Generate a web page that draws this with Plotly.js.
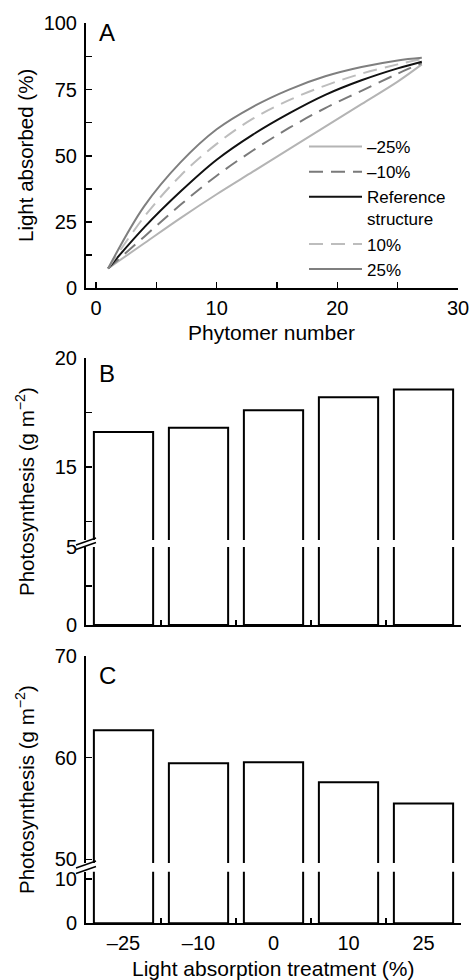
<!DOCTYPE html>
<html><head><meta charset="utf-8">
<script src="https://cdn.plot.ly/plotly-3.0.1.min.js"></script>
<style>html,body{margin:0;padding:0;background:#fff}#chart{width:470px;height:980px}</style>
</head><body><div id="chart"></div>
<script>
// ---- data ----
const phytomer = [1, 4, 7, 10, 13, 16, 19, 22, 25, 27];
const absMinus25 = [7.5, 17, 26.5, 35.5, 44, 52.5, 61, 69.5, 78, 84.5];
const absMinus10 = [7.5, 19.5, 31.5, 42.5, 52, 60.5, 68, 74.5, 81, 85];
const absReference = [7.5, 23, 36.5, 48.5, 58, 66, 73, 78.5, 83, 85.5];
const absPlus10 = [7.5, 27, 42.5, 54.5, 64, 71, 76.5, 81, 84.5, 86.5];
const absPlus25 = [7.5, 31, 47.5, 60, 68.5, 75, 80, 83.5, 86, 87];
const seriesNames = ['–25%', '–10%', 'Reference<br>structure', '10%', '25%'];
const treatments = ['–25', '–10', '0', '10', '25'];
const photoB = [16.6, 16.8, 17.6, 18.2, 18.55];
const photoC = [62.7, 59.45, 59.55, 57.6, 55.5];

// ---- layout helpers (pixel -> paper) ----
const W = 470, H = 980, ML = 86, MR = 9;
const PW = W - ML - MR;
const fx = px => (px - ML) / PW;
const fy = py => 1 - py / H;
const FONT = '"Liberation Sans", Arial, Helvetica, sans-serif';

const lineStyles = [
  {color: '#b4b4b4', width: 2, dash: 'solid'},
  {color: '#7a7a7a', width: 2, dash: '14px,8px'},
  {color: '#111111', width: 2, dash: 'solid'},
  {color: '#bdbdbd', width: 2, dash: '14px,8px'},
  {color: '#7f7f7f', width: 2, dash: 'solid'}
];
const curveData = [absMinus25, absMinus10, absReference, absPlus10, absPlus25];

const traces = curveData.map((ys, i) => ({
  type: 'scatter', mode: 'lines', x: phytomer, y: ys, name: seriesNames[i],
  line: Object.assign({shape: 'spline'}, lineStyles[i]),
  xaxis: 'x', yaxis: 'y', showlegend: true, hoverinfo: 'skip'
}));

const barStyle = {color: '#ffffff', line: {color: '#000000', width: 2}};
[['y2', photoB, 'x2'], ['y3', photoB, 'x2'], ['y4', photoC, 'x3'], ['y5', photoC, 'x3']].forEach(([ya, vals, xa]) => {
  traces.push({type: 'bar', x: treatments, y: vals, xaxis: xa, yaxis: ya,
    marker: barStyle, showlegend: false, hoverinfo: 'skip'});
});

const tickFont = {family: FONT, size: 20, color: '#000'};
const baseY = {
  showgrid: false, zeroline: false, showline: true, linecolor: '#000', linewidth: 2,
  ticks: 'inside', ticklen: 6, tickwidth: 1.5, tickcolor: '#000',
  tickfont: tickFont, fixedrange: true, ticklabelstandoff: 3
};
const minorY = d => ({dtick: d, ticks: 'inside', ticklen: 6, tickwidth: 1.5, tickcolor: '#000', showgrid: false});

const catX = {
  type: 'category', range: [-0.5, 4.5], showgrid: false, zeroline: false,
  showline: true, linecolor: '#000', linewidth: 2,
  ticks: 'inside', tickson: 'boundaries', ticklen: 5, tickwidth: 1.5, tickcolor: '#000',
  tickfont: tickFont, fixedrange: true, domain: [0, 1]
};

const layout = {
  width: W, height: H,
  margin: {l: ML, r: MR, t: 0, b: 0},
  paper_bgcolor: '#fff', plot_bgcolor: 'rgba(0,0,0,0)',
  font: {family: FONT, size: 20, color: '#000'},
  barmode: 'overlay', bargap: 0.21,
  showlegend: true,
  legend: {
    x: fx(304), y: fy(129), xanchor: 'left', yanchor: 'top',
    bgcolor: 'rgba(0,0,0,0)', borderwidth: 0, valign: 'top', itemwidth: 53,
    font: {family: FONT, size: 17, color: '#000'}, tracegroupgap: 0
  },
  xaxis: {
    domain: [0, fx(458)], range: [-0.83, 30], anchor: 'y',
    showgrid: false, zeroline: false, showline: true, linecolor: '#000', linewidth: 2,
    ticks: 'inside', ticklen: 6, tickwidth: 1.5, tickcolor: '#000', dtick: 10, tick0: 0,
    minor: {dtick: 5, ticks: 'inside', ticklen: 6, tickwidth: 1.5, tickcolor: '#000', showgrid: false},
    tickfont: tickFont, fixedrange: true, ticklabelstandoff: 1
  },
  yaxis: Object.assign({}, baseY, {
    domain: [fy(288.3), fy(23.3)], range: [0, 100], anchor: 'x', dtick: 25, tick0: 0,
    minor: minorY(12.5)
  }),
  xaxis2: Object.assign({}, catX, {anchor: 'y3', showticklabels: false}),
  yaxis2: Object.assign({}, baseY, {
    domain: [fy(540), fy(358)], range: [11.65, 20], anchor: 'x2', dtick: 5, tick0: 0,
    minor: minorY(2.5)
  }),
  yaxis3: Object.assign({}, baseY, {
    domain: [fy(625), fy(547)], range: [0, 5], anchor: 'x2', dtick: 5, tick0: 0,
    minor: minorY(2.5)
  }),
  xaxis3: Object.assign({}, catX, {anchor: 'y5', showticklabels: true, ticklabelstandoff: 1}),
  yaxis4: Object.assign({}, baseY, {
    domain: [fy(863), fy(656)], range: [49.65, 70], anchor: 'x3', dtick: 10, tick0: 0
  }),
  yaxis5: Object.assign({}, baseY, {
    domain: [fy(923.3), fy(871.7)], range: [0, 11.65], anchor: 'x3', dtick: 10, tick0: 0
  }),
  shapes: [
    // axis-break marks
    {type: 'line', xref: 'paper', yref: 'paper', x0: fx(76), y0: fy(545), x1: fx(96), y1: fy(538), line: {color: '#000', width: 1.5}},
    {type: 'line', xref: 'paper', yref: 'paper', x0: fx(76), y0: fy(549.5), x1: fx(96), y1: fy(542.5), line: {color: '#000', width: 1.5}},
    {type: 'line', xref: 'paper', yref: 'paper', x0: fx(76), y0: fy(868), x1: fx(96), y1: fy(861), line: {color: '#000', width: 1.5}},
    {type: 'line', xref: 'paper', yref: 'paper', x0: fx(76), y0: fy(873.5), x1: fx(96), y1: fy(866.5), line: {color: '#000', width: 1.5}}
  ],
  annotations: [
    {text: 'A', x: fx(97), y: fy(33), xref: 'paper', yref: 'paper', xanchor: 'left', yanchor: 'middle', showarrow: false, font: {family: FONT, size: 24}},
    {text: 'B', x: fx(97), y: fy(373), xref: 'paper', yref: 'paper', xanchor: 'left', yanchor: 'middle', showarrow: false, font: {family: FONT, size: 24}},
    {text: 'C', x: fx(97), y: fy(675), xref: 'paper', yref: 'paper', xanchor: 'left', yanchor: 'middle', showarrow: false, font: {family: FONT, size: 24}},
    {text: 'Light absorbed (%)', x: fx(25), y: fy(156), xref: 'paper', yref: 'paper', xanchor: 'center', yanchor: 'middle', textangle: -90, showarrow: false, font: {family: FONT, size: 20.5}},
    {text: 'Photosynthesis (g m<sup>−2</sup>)', x: fx(25), y: fy(492), xref: 'paper', yref: 'paper', xanchor: 'center', yanchor: 'middle', textangle: -90, showarrow: false, font: {family: FONT, size: 20.5}},
    {text: 'Photosynthesis (g m<sup>−2</sup>)', x: fx(25), y: fy(790), xref: 'paper', yref: 'paper', xanchor: 'center', yanchor: 'middle', textangle: -90, showarrow: false, font: {family: FONT, size: 20.5}},
    {text: 'Phytomer number', x: fx(271), y: fy(333), xref: 'paper', yref: 'paper', xanchor: 'center', yanchor: 'middle', showarrow: false, font: {family: FONT, size: 21}},
    {text: 'Light absorption treatment (%)', x: fx(272.5), y: fy(968), xref: 'paper', yref: 'paper', xanchor: 'center', yanchor: 'middle', showarrow: false, font: {family: FONT, size: 21}}
  ]
};

Plotly.newPlot('chart', traces, layout, {staticPlot: true, displayModeBar: false});
</script>
</body></html>
